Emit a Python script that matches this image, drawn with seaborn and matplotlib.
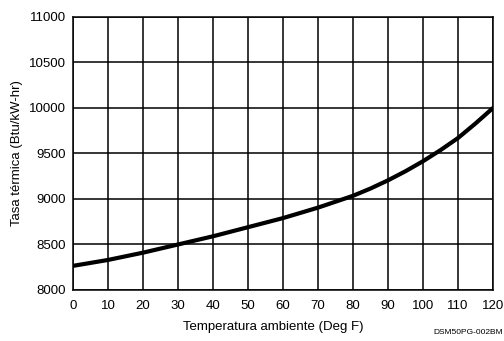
import pandas as pd
import matplotlib
matplotlib.use("Agg")
import matplotlib.pyplot as plt
import seaborn as sns

# Valeurs
temperatura = [0, 10, 20, 30, 40, 50, 60, 70, 80, 85, 90, 95, 100, 105, 110, 115, 120]
tasa_termica = [8265, 8330, 8410, 8500, 8590, 8690, 8790, 8905, 9035, 9115, 9205, 9305,
                9415, 9537, 9670, 9830, 10000]
x_ticks = list(range(0, 121, 10))
y_ticks = [8000, 8500, 9000, 9500, 10000, 10500, 11000]

sns.set_theme(style="white")
plt.rcParams['font.family'] = ['Liberation Sans', 'DejaVu Sans']

df = pd.DataFrame({"temp": temperatura, "tasa": tasa_termica})

fig = plt.figure(figsize=(5.04, 3.41), dpi=100)
ax = fig.add_axes([0.1448, 0.1496, 0.8334, 0.8006])

sns.lineplot(data=df, x="temp", y="tasa", color="black", linewidth=3.0, ax=ax)

ax.set_xlim(0, 120)
ax.set_ylim(8000, 11000)
ax.set_xticks(x_ticks)
ax.set_yticks(y_ticks)
ax.grid(True, color="black", linewidth=1.1)
ax.set_axisbelow(True)
for s in ax.spines.values():
    s.set_color("black")
    s.set_linewidth(1.1)
ax.tick_params(axis="y", length=0, labelsize=9.5, colors="black", pad=5)
ax.tick_params(axis="x", length=0, labelsize=9.5, colors="black", pad=7)

ax.set_xlabel("Temperatura ambiente (Deg F)", fontsize=9.5, color="black")
ax.set_ylabel("Tasa térmica (Btu/kW-hr)", fontsize=9.5, color="black")
ax.xaxis.set_label_coords(0.476, -0.115)
ax.yaxis.set_label_coords(-0.12, 0.5)

fig.text(0.998, 0.015, "DSM50PG-002BM", fontsize=6, ha="right", va="bottom", color="black")

fig.savefig("out.png", dpi=100)
